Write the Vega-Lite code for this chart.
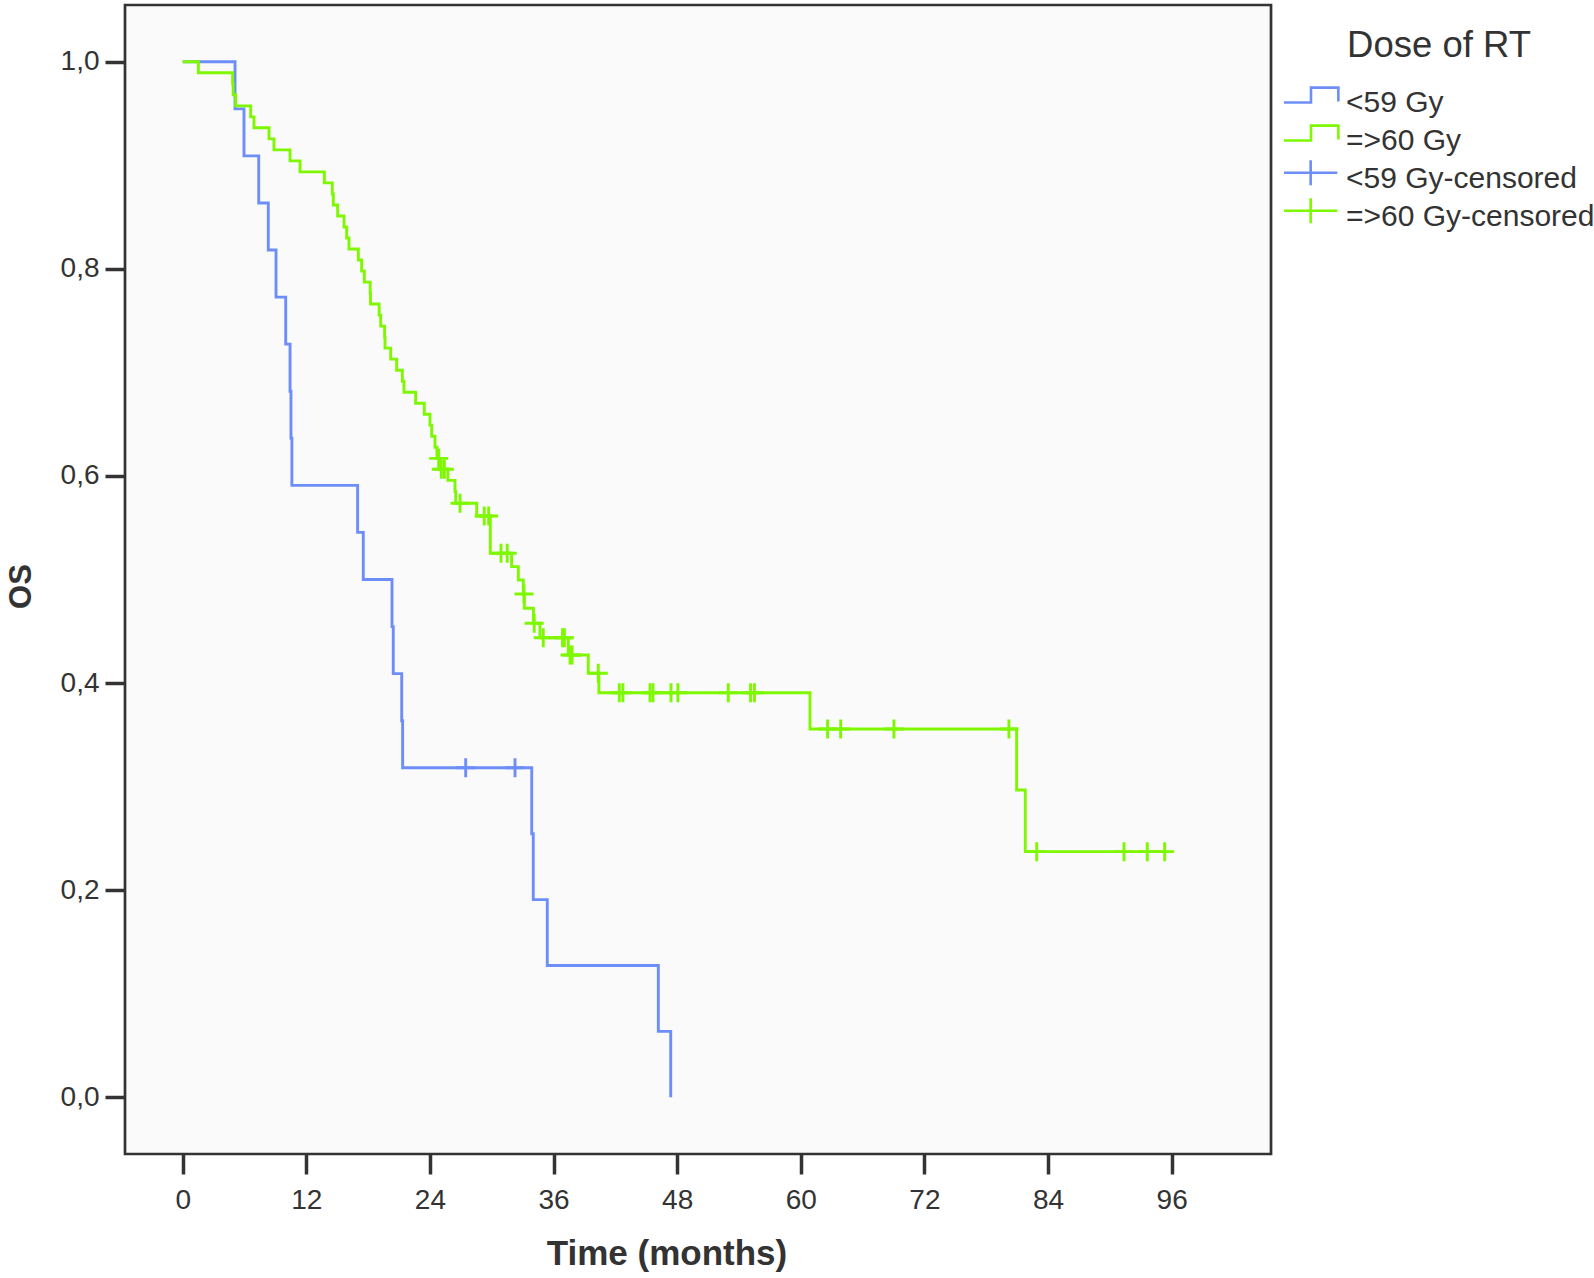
{
  "$schema": "https://vega.github.io/schema/vega-lite/v6.json",
  "width": 1146,
  "height": 1149,
  "autosize": {"type": "none"},
  "padding": {"left": 125, "top": 5, "right": 323, "bottom": 124},
  "background": "#ffffff",
  "config": {
    "font": "Liberation Sans",
    "view": {"stroke": "#333333", "strokeWidth": 2.7, "fill": "#fafafa"},
    "axis": {
      "grid": false, "domain": false,
      "tickColor": "#333333", "tickWidth": 3.5, "tickSize": 20,
      "labelColor": "#333333", "labelFontSize": 28, "labelFont": "Liberation Sans",
      "titleColor": "#333333", "titleFont": "Liberation Sans", "titleFontWeight": "bold"
    }
  },
  "datasets": {
    "curves": [
      {"t": 0, "s": 1.0, "cat": "<59 Gy"},
      {"t": 5.08, "s": 0.9545, "cat": "<59 Gy"},
      {"t": 5.95, "s": 0.9091, "cat": "<59 Gy"},
      {"t": 7.38, "s": 0.8636, "cat": "<59 Gy"},
      {"t": 8.31, "s": 0.8182, "cat": "<59 Gy"},
      {"t": 9.06, "s": 0.7727, "cat": "<59 Gy"},
      {"t": 10.0, "s": 0.7273, "cat": "<59 Gy"},
      {"t": 10.42, "s": 0.6818, "cat": "<59 Gy"},
      {"t": 10.51, "s": 0.6364, "cat": "<59 Gy"},
      {"t": 10.6, "s": 0.5909, "cat": "<59 Gy"},
      {"t": 16.98, "s": 0.5455, "cat": "<59 Gy"},
      {"t": 17.53, "s": 0.5, "cat": "<59 Gy"},
      {"t": 20.32, "s": 0.4545, "cat": "<59 Gy"},
      {"t": 20.44, "s": 0.4091, "cat": "<59 Gy"},
      {"t": 21.26, "s": 0.3636, "cat": "<59 Gy"},
      {"t": 21.35, "s": 0.3182, "cat": "<59 Gy"},
      {"t": 33.88, "s": 0.2545, "cat": "<59 Gy"},
      {"t": 34.03, "s": 0.1909, "cat": "<59 Gy"},
      {"t": 35.39, "s": 0.1273, "cat": "<59 Gy"},
      {"t": 46.17, "s": 0.0636, "cat": "<59 Gy"},
      {"t": 47.37, "s": 0.0, "cat": "<59 Gy"},
      {"t": 0, "s": 1.0, "cat": "=>60 Gy"},
      {"t": 1.52, "s": 0.9894, "cat": "=>60 Gy"},
      {"t": 4.85, "s": 0.9787, "cat": "=>60 Gy"},
      {"t": 4.9, "s": 0.9681, "cat": "=>60 Gy"},
      {"t": 5.14, "s": 0.9574, "cat": "=>60 Gy"},
      {"t": 6.6, "s": 0.9468, "cat": "=>60 Gy"},
      {"t": 6.92, "s": 0.9362, "cat": "=>60 Gy"},
      {"t": 8.38, "s": 0.9255, "cat": "=>60 Gy"},
      {"t": 8.86, "s": 0.9149, "cat": "=>60 Gy"},
      {"t": 10.42, "s": 0.9043, "cat": "=>60 Gy"},
      {"t": 11.39, "s": 0.8936, "cat": "=>60 Gy"},
      {"t": 13.75, "s": 0.883, "cat": "=>60 Gy"},
      {"t": 14.52, "s": 0.8723, "cat": "=>60 Gy"},
      {"t": 14.62, "s": 0.8617, "cat": "=>60 Gy"},
      {"t": 15.04, "s": 0.8511, "cat": "=>60 Gy"},
      {"t": 15.66, "s": 0.8404, "cat": "=>60 Gy"},
      {"t": 15.92, "s": 0.8298, "cat": "=>60 Gy"},
      {"t": 16.14, "s": 0.8191, "cat": "=>60 Gy"},
      {"t": 17.05, "s": 0.8085, "cat": "=>60 Gy"},
      {"t": 17.37, "s": 0.7979, "cat": "=>60 Gy"},
      {"t": 17.63, "s": 0.7872, "cat": "=>60 Gy"},
      {"t": 18.2, "s": 0.7766, "cat": "=>60 Gy"},
      {"t": 18.23, "s": 0.766, "cat": "=>60 Gy"},
      {"t": 19.07, "s": 0.7553, "cat": "=>60 Gy"},
      {"t": 19.22, "s": 0.7447, "cat": "=>60 Gy"},
      {"t": 19.6, "s": 0.734, "cat": "=>60 Gy"},
      {"t": 19.64, "s": 0.7234, "cat": "=>60 Gy"},
      {"t": 20.19, "s": 0.7128, "cat": "=>60 Gy"},
      {"t": 20.77, "s": 0.7021, "cat": "=>60 Gy"},
      {"t": 21.32, "s": 0.6915, "cat": "=>60 Gy"},
      {"t": 21.48, "s": 0.6809, "cat": "=>60 Gy"},
      {"t": 22.61, "s": 0.6702, "cat": "=>60 Gy"},
      {"t": 23.45, "s": 0.6596, "cat": "=>60 Gy"},
      {"t": 24.0, "s": 0.6489, "cat": "=>60 Gy"},
      {"t": 24.17, "s": 0.6383, "cat": "=>60 Gy"},
      {"t": 24.49, "s": 0.6277, "cat": "=>60 Gy"},
      {"t": 24.68, "s": 0.617, "cat": "=>60 Gy"},
      {"t": 24.98, "s": 0.6064, "cat": "=>60 Gy"},
      {"t": 25.74, "s": 0.5957, "cat": "=>60 Gy"},
      {"t": 26.43, "s": 0.585, "cat": "=>60 Gy"},
      {"t": 26.5, "s": 0.5736, "cat": "=>60 Gy"},
      {"t": 28.54, "s": 0.5613, "cat": "=>60 Gy"},
      {"t": 29.86, "s": 0.5253, "cat": "=>60 Gy"},
      {"t": 31.93, "s": 0.5124, "cat": "=>60 Gy"},
      {"t": 32.58, "s": 0.4995, "cat": "=>60 Gy"},
      {"t": 33.06, "s": 0.486, "cat": "=>60 Gy"},
      {"t": 33.16, "s": 0.4722, "cat": "=>60 Gy"},
      {"t": 34.04, "s": 0.4577, "cat": "=>60 Gy"},
      {"t": 34.68, "s": 0.4438, "cat": "=>60 Gy"},
      {"t": 37.43, "s": 0.4271, "cat": "=>60 Gy"},
      {"t": 39.37, "s": 0.4094, "cat": "=>60 Gy"},
      {"t": 40.4, "s": 0.3907, "cat": "=>60 Gy"},
      {"t": 60.89, "s": 0.3556, "cat": "=>60 Gy"},
      {"t": 80.95, "s": 0.2967, "cat": "=>60 Gy"},
      {"t": 81.79, "s": 0.2372, "cat": "=>60 Gy"},
      {"t": 95.32, "s": 0.2372, "cat": "=>60 Gy"}
    ],
    "censors": [
      {"t": 27.47, "s": 0.3182, "cat": "<59 Gy-censored"},
      {"t": 32.26, "s": 0.3182, "cat": "<59 Gy-censored"},
      {"t": 24.85, "s": 0.617, "cat": "=>60 Gy-censored"},
      {"t": 25.1, "s": 0.6064, "cat": "=>60 Gy-censored"},
      {"t": 25.4, "s": 0.6064, "cat": "=>60 Gy-censored"},
      {"t": 26.92, "s": 0.5736, "cat": "=>60 Gy-censored"},
      {"t": 29.27, "s": 0.5613, "cat": "=>60 Gy-censored"},
      {"t": 29.7, "s": 0.5613, "cat": "=>60 Gy-censored"},
      {"t": 30.9, "s": 0.5253, "cat": "=>60 Gy-censored"},
      {"t": 31.5, "s": 0.5253, "cat": "=>60 Gy-censored"},
      {"t": 33.13, "s": 0.486, "cat": "=>60 Gy-censored"},
      {"t": 34.12, "s": 0.4577, "cat": "=>60 Gy-censored"},
      {"t": 35.0, "s": 0.4438, "cat": "=>60 Gy-censored"},
      {"t": 36.87, "s": 0.4438, "cat": "=>60 Gy-censored"},
      {"t": 37.05, "s": 0.4438, "cat": "=>60 Gy-censored"},
      {"t": 37.6, "s": 0.4271, "cat": "=>60 Gy-censored"},
      {"t": 37.8, "s": 0.4271, "cat": "=>60 Gy-censored"},
      {"t": 40.34, "s": 0.4094, "cat": "=>60 Gy-censored"},
      {"t": 42.38, "s": 0.3907, "cat": "=>60 Gy-censored"},
      {"t": 42.73, "s": 0.3907, "cat": "=>60 Gy-censored"},
      {"t": 45.36, "s": 0.3907, "cat": "=>60 Gy-censored"},
      {"t": 45.65, "s": 0.3907, "cat": "=>60 Gy-censored"},
      {"t": 47.4, "s": 0.3907, "cat": "=>60 Gy-censored"},
      {"t": 48.07, "s": 0.3907, "cat": "=>60 Gy-censored"},
      {"t": 52.96, "s": 0.3907, "cat": "=>60 Gy-censored"},
      {"t": 55.12, "s": 0.3907, "cat": "=>60 Gy-censored"},
      {"t": 55.5, "s": 0.3907, "cat": "=>60 Gy-censored"},
      {"t": 62.6, "s": 0.3556, "cat": "=>60 Gy-censored"},
      {"t": 63.87, "s": 0.3556, "cat": "=>60 Gy-censored"},
      {"t": 69.04, "s": 0.3556, "cat": "=>60 Gy-censored"},
      {"t": 80.2, "s": 0.3556, "cat": "=>60 Gy-censored"},
      {"t": 82.9, "s": 0.2372, "cat": "=>60 Gy-censored"},
      {"t": 91.37, "s": 0.2372, "cat": "=>60 Gy-censored"},
      {"t": 93.63, "s": 0.2372, "cat": "=>60 Gy-censored"},
      {"t": 95.32, "s": 0.2372, "cat": "=>60 Gy-censored"}
    ]
  },
  "encoding": {
    "x": {
      "field": "t", "type": "quantitative",
      "scale": {"domain": [-5.6, 105.64], "nice": false, "zero": false},
      "axis": {
        "values": [0, 12, 24, 36, 48, 60, 72, 84, 96],
        "labelPadding": 12, "labelFlush": false,
        "title": "Time (months)", "titleFontSize": 35,
        "titleX": 541.5, "titleY": 110.5, "titleAlign": "center", "titleBaseline": "alphabetic"
      }
    },
    "y": {
      "field": "s", "type": "quantitative",
      "scale": {"domain": [-0.0548, 1.0548], "nice": false, "zero": false},
      "axis": {
        "values": [0, 0.2, 0.4, 0.6, 0.8, 1.0],
        "labelExpr": "replace(format(datum.value, '.1f'), '.', ',')",
        "labelPadding": 6, "labelDy": 1.5,
        "title": "OS", "titleFontSize": 31, "titleAngle": 270,
        "titleX": -95, "titleY": 581, "titleAlign": "center", "titleBaseline": "alphabetic"
      }
    }
  },
  "layer": [
    {
      "data": {"name": "curves"},
      "mark": {"type": "line", "interpolate": "step-after", "strokeWidth": 2.9},
      "encoding": {
        "stroke": {
          "field": "cat", "type": "nominal",
          "scale": {
            "domain": ["<59 Gy-censored", "=>60 Gy-censored", "<59 Gy", "=>60 Gy"],
            "range": ["#6d8ef8", "#7ef800", "#6d8ef8", "#7ef800"]
          },
          "legend": null
        }
      }
    },
    {
      "data": {"name": "censors"},
      "mark": {"type": "point", "filled": false, "shape": "M-1,0L1,0M0,-1L0,1", "size": 361, "strokeWidth": 2.9, "opacity": 1},
      "encoding": {
        "stroke": {
          "field": "cat", "type": "nominal",
          "scale": {
            "domain": ["<59 Gy-censored", "=>60 Gy-censored", "<59 Gy", "=>60 Gy"],
            "range": ["#6d8ef8", "#7ef800", "#6d8ef8", "#7ef800"]
          },
          "legend": null
        }
      }
    },
    {
      "data": {"name": "curves"},
      "mark": {"type": "point", "filled": false, "size": 1156, "strokeWidth": 2.6, "opacity": 0},
      "encoding": {
        "color": {
          "field": "cat", "type": "nominal",
          "scale": {
            "domain": ["<59 Gy", "=>60 Gy", "<59 Gy-censored", "=>60 Gy-censored"],
            "range": ["#6d8ef8", "#7ef800", "#6d8ef8", "#7ef800"]
          },
          "legend": {
            "title": "Dose of RT",
            "orient": "none", "legendX": 1159, "legendY": 22.6,
            "padding": 0,
            "titleFontSize": 36.5, "titleFontWeight": "normal", "titleColor": "#333333",
            "titleAnchor": "middle", "titleBaseline": "top", "titlePadding": 20, "titleLimit": 400,
            "labelFontSize": 30, "labelColor": "#333333", "labelOffset": 25, "labelLimit": 400,
            "symbolSize": 1156, "symbolStrokeWidth": 2.6, "symbolOpacity": 1,
            "clipHeight": 37.6, "rowPadding": 0
          }
        },
        "shape": {
          "field": "cat", "type": "nominal",
          "scale": {
            "domain": ["<59 Gy", "=>60 Gy", "<59 Gy-censored", "=>60 Gy-censored"],
            "range": [
              "M-1.09,-0.02L0.5,-0.02L0.5,-0.9L2.11,-0.9L2.11,-0.08",
              "M-1.09,-0.02L0.5,-0.02L0.5,-0.9L2.11,-0.9L2.11,-0.08",
              "M-1.09,-0.365L2.05,-0.365M0.48,-1.1L0.48,0.37",
              "M-1.09,-0.365L2.05,-0.365M0.48,-1.1L0.48,0.37"
            ]
          },
          "legend": {
            "title": "Dose of RT",
            "orient": "none", "legendX": 1159, "legendY": 22.6,
            "padding": 0,
            "titleFontSize": 36.5, "titleFontWeight": "normal", "titleColor": "#333333",
            "titleAnchor": "middle", "titleBaseline": "top", "titlePadding": 20, "titleLimit": 400,
            "labelFontSize": 30, "labelColor": "#333333", "labelOffset": 25, "labelLimit": 400,
            "symbolSize": 1156, "symbolStrokeWidth": 2.6, "symbolOpacity": 1,
            "clipHeight": 37.6, "rowPadding": 0
          }
        }
      }
    }
  ]
}
